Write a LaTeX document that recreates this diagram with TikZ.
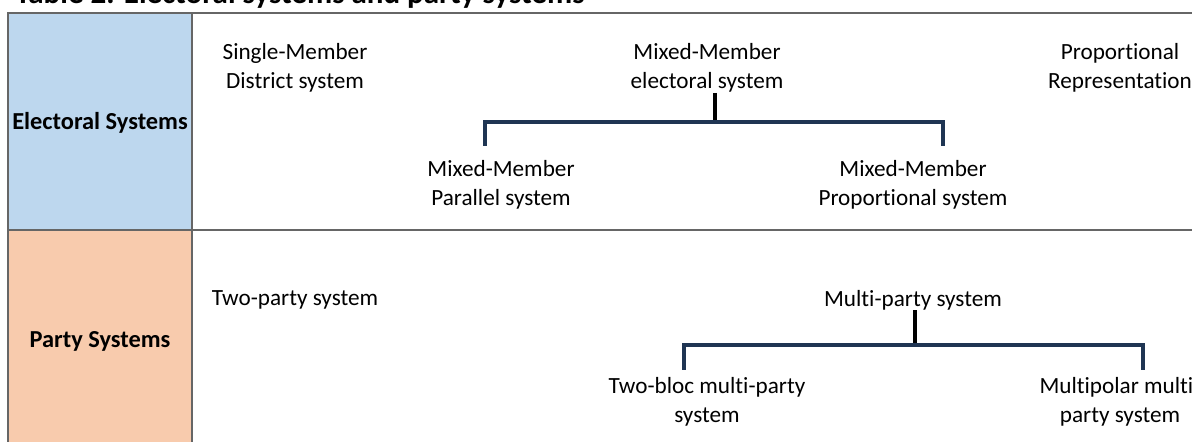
\documentclass[tikz,border=0pt]{standalone}
\usepackage{fontspec}
\setmainfont{Carlito}[RawFeature=-liga]
\usetikzlibrary{positioning}

\definecolor{rowblue}{HTML}{BDD7EE}
\definecolor{roworange}{HTML}{F8CBAD}
\definecolor{bracketnavy}{HTML}{1F3553}

\begin{document}
\begin{tikzpicture}[
    x=0.5pt, y=-0.5pt,
    table line/.style={draw=black!60, line width=0.6pt},
    head/.style={font=\fontsize{12.2}{14.5}\selectfont\bfseries, align=center},
    item/.style={font=\fontsize{11.6}{14.5}\selectfont, align=center, inner sep=0pt},
    stem/.style={line width=2pt, black},
    bracket/.style={line width=2pt, bracketnavy}
    ]

\clip (0,0) rectangle (1192,442);

% title (cut by the top edge)
\node[anchor=base west, inner sep=0pt, font=\fontsize{15.5}{17}\selectfont\bfseries]
    (title) at (15,3.5) {Table 2. Electoral systems and party systems};

% table cells
\fill[rowblue] (8,13) rectangle (192,230);
\fill[roworange] (8,230) rectangle (192,450);
\draw[table line] (8,450) -- (8,13) -- (1200,13);
\draw[table line] (192,13) -- (192,450);
\draw[table line] (8,230) -- (1200,230);

\node[head] (elect) at (100,123) {Electoral Systems};
\node[head] (party) at (100,341) {Party Systems};

% electoral systems
\node[item] (smd) at (295,68) {Single-Member\\District system};
\node[item] (mixed) at (707,68) {Mixed-Member\\electoral system};
\node[item] (pr) at (1120,68) {Proportional\\Representation};
\node[item] (mmpar) at (501,185) {Mixed-Member\\Parallel system};
\node[item] (mmprop) at (913,185) {Mixed-Member\\Proportional system};

\coordinate (ejoint) at (715,122);
\coordinate (eleft) at (485,146);
\coordinate (eright) at (943,146);
\draw[stem] (mixed.south -| ejoint) -- (ejoint);
\draw[bracket] (eleft) |- (ejoint) -| (eright);

% party systems
\node[item] (twoparty) at (295,300) {Two-party system};
\node[item] (multi) at (913,300) {Multi-party system};
\node[item] (twobloc) at (707,402) {Two-bloc multi-party\\system};
\node[item] (multipolar) at (1120,402) {Multipolar multi-\\party system};

\coordinate (pjoint) at (915,345);
\coordinate (pleft) at (684,370);
\coordinate (pright) at (1143,370);
\draw[stem] (multi.south -| pjoint) -- (pjoint);
\draw[bracket] (pleft) |- (pjoint) -| (pright);

\end{tikzpicture}
\end{document}
